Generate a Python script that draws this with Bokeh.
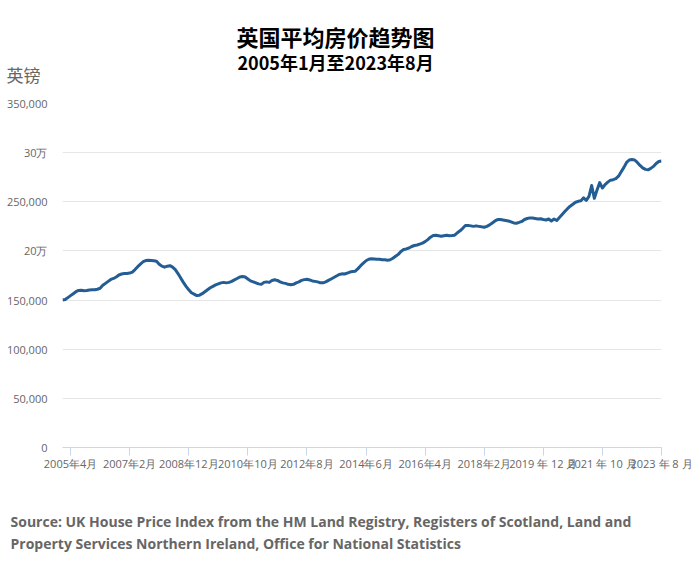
from bokeh.plotting import figure
from bokeh.models import Range1d, FixedTicker, Title, LinearAxis
from bokeh.embed import file_html
from bokeh.resources import INLINE

title_text = "英国平均房价趋势图"
subtitle_text = "2005年1月至2023年8月"
unit_text = "英镑"
source_lines = [
    "Source: UK House Price Index from the HM Land Registry, Registers of Scotland, Land and",
    "Property Services Northern Ireland, Office for National Statistics",
]

# Monthly average price (GBP), Jan 2005 .. Aug 2023
p2005 = [150000, 150500, 152500, 154500, 156500, 158500, 159800, 160000, 159500, 159700, 160300, 160500]
p2006 = [160500, 161000, 162000, 165000, 167000, 169000, 171000, 172000, 173500, 175500, 176500, 177000]
p2007 = [177000, 177500, 178500, 181000, 184000, 186500, 189000, 190200, 190500, 190300, 190000, 189500]
p2008 = [186500, 184500, 183500, 184500, 185000, 183500, 181000, 177000, 172500, 168000, 164000, 160500]
p2009 = [157500, 156000, 154600, 155000, 156500, 158500, 160500, 162500, 164000, 165500, 166500, 167500]
p2010 = [168000, 167500, 168000, 169000, 170500, 172000, 173500, 174000, 173500, 171500, 169500, 168500]
p2011 = [167500, 166500, 166000, 168000, 168500, 168000, 170000, 170600, 170000, 168500, 167500, 167000]
p2012 = [166000, 165500, 166000, 167500, 168500, 170000, 170800, 171200, 170500, 169500, 169000, 168500]
p2013 = [167500, 167500, 168500, 170000, 171500, 173000, 174500, 176000, 176700, 176500, 177500, 178500]
p2014 = [179000, 179400, 182000, 185000, 187500, 190000, 191500, 192000, 191800, 191500, 191500, 191000]
p2015 = [191000, 190500, 191000, 192500, 194500, 196500, 199500, 201500, 202000, 203000, 204500, 205500]
p2016 = [206000, 207000, 208000, 209500, 211500, 214000, 215700, 216000, 215500, 215000, 215500, 216000]
p2017 = [215500, 215700, 216000, 218500, 220500, 223000, 225800, 226000, 225500, 225000, 225500, 225000]
p2018 = [224500, 224100, 225000, 226500, 228500, 230500, 231900, 232000, 231500, 231000, 230500, 229500]
p2019 = [228500, 228200, 229000, 230000, 232000, 233000, 233600, 233500, 233000, 232500, 232800, 232000]
p2020 = [231500, 232500, 230500, 232500, 231000, 234000, 237000, 240000, 243000, 245500, 247500, 249500]
p2021 = [250500, 251000, 254000, 251500, 255500, 266500, 253500, 262000, 269500, 264000, 267500, 270000]
p2022 = [272000, 272500, 273500, 276000, 280500, 285000, 290000, 292500, 293000, 292500, 290000, 287000]
p2023 = [284500, 283000, 282500, 284000, 286000, 289000, 291000, 291500]

prices = (p2005 + p2006 + p2007 + p2008 + p2009 + p2010 + p2011 + p2012 + p2013 + p2014
          + p2015 + p2016 + p2017 + p2018 + p2019 + p2020 + p2021 + p2022 + p2023)
months = list(range(len(prices)))

x_tick_positions = [3, 25, 47, 69, 91, 113, 135, 157, 179, 201, 223]
x_tick_labels = ["2005年4月", "2007年2月", "2008年12月", "2010年10月", "2012年8月", "2014年6月",
                 "2016年4月", "2018年2月", "2019 年 12 月", "2021 年 10 月", "2023 年 8 月"]
y_tick_positions = [0, 50000, 100000, 150000, 200000, 250000, 300000, 350000]
y_tick_labels = ["0", "50,000", "100,000", "150,000", "20万", "250,000", "30万", "350,000"]

FONT = "Open Sans"
CJK = "Noto Sans CJK SC"
GRAY = "#666666"
LINE = "#235d93"

p = figure(width=700, height=574, output_backend="svg", toolbar_location=None,
           x_range=Range1d(0, 223), y_range=Range1d(0, 350000),
           min_border_left=62, min_border_right=39, min_border_top=103, min_border_bottom=127)
p.outline_line_color = None
p.background_fill_color = "white"
p.border_fill_color = "white"

p.line(months, prices, line_color=LINE, line_width=3, line_join="round")

p.xgrid.grid_line_color = None
p.ygrid.grid_line_color = "#e6e6e6"
p.ygrid.grid_line_width = 1

xa = p.xaxis[0]
xa.ticker = FixedTicker(ticks=x_tick_positions)
xa.major_label_overrides = {t: l for t, l in zip(x_tick_positions, x_tick_labels)}
xa.axis_line_color = "#ccd6eb"
xa.major_tick_line_color = "#ccd6eb"
xa.major_tick_out = 8
xa.major_tick_in = 0
xa.minor_tick_line_color = None
xa.major_label_standoff = 0
xa.major_label_text_font = FONT
xa.major_label_text_font_size = "11px"
xa.major_label_text_color = GRAY

ya = p.yaxis[0]
ya.ticker = FixedTicker(ticks=y_tick_positions)
ya.major_label_overrides = {t: l for t, l in zip(y_tick_positions, y_tick_labels)}
ya.axis_line_color = None
ya.major_tick_line_color = None
ya.minor_tick_line_color = None
ya.major_tick_out = 0
ya.major_tick_in = 0
ya.major_label_standoff = 15
ya.major_label_text_font = FONT
ya.major_label_text_font_size = "11px"
ya.major_label_text_color = GRAY


def spacer(size, side, at=5):
    """A blank axis (one white tick, no label) that only reserves room in a side panel."""
    ax = LinearAxis(ticker=FixedTicker(ticks=[at]), major_label_overrides={at: ""},
                    major_tick_out=size, major_tick_in=0, minor_tick_out=0, minor_tick_in=0,
                    major_label_standoff=0, major_label_text_font_size="1px",
                    major_label_text_color=None, axis_line_color=None,
                    major_tick_line_color="white", minor_tick_line_color=None)
    p.add_layout(ax, side)


# above panel, listed from the frame outward
spacer(29, "above")
p.add_layout(Title(text=unit_text, align="left", offset=-56, standoff=-25,
                   text_font=CJK, text_font_size="17px", text_font_style="normal",
                   text_color=GRAY), "above")
p.add_layout(Title(text=subtitle_text, align="left", offset=175, standoff=-4,
                   text_font=CJK, text_font_size="18px", text_font_style="bold",
                   text_color="#000000"), "above")
p.add_layout(Title(text=title_text, align="left", offset=174, standoff=-6,
                   text_font=CJK, text_font_size="22px", text_font_style="bold",
                   text_color="#000000"), "above")

# below panel, after the x axis
spacer(46, "below")
p.add_layout(Title(text=source_lines[0], align="left", offset=-52, standoff=-19,
                   text_font=FONT, text_font_size="14px", text_font_style="bold",
                   text_color=GRAY), "below")
p.add_layout(Title(text=source_lines[1], align="left", offset=-52, standoff=21,
                   text_font=FONT, text_font_size="14px", text_font_style="bold",
                   text_color=GRAY), "below")

open("out.html", "w").write(file_html(p, INLINE))
